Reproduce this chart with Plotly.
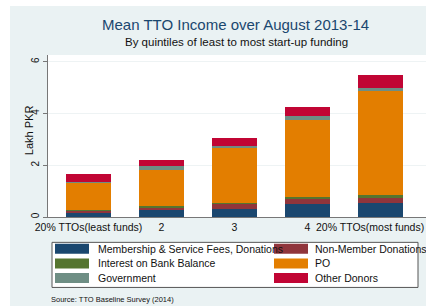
import plotly.graph_objects as go

categories = ["20% TTOs(least funds)", "2", "3", "4", "20% TTOs(most funds)"]
membership = [0.19, 0.26, 0.32, 0.49, 0.54]
non_member = [0.05, 0.12, 0.19, 0.21, 0.18]
interest = [0.02, 0.04, 0.02, 0.08, 0.12]
po = [1.08, 1.41, 2.12, 2.97, 4.03]
government = [0.03, 0.13, 0.08, 0.16, 0.12]
other_donors = [0.29, 0.26, 0.32, 0.34, 0.49]

series = [
    ("Membership & Service Fees, Donations", membership, "#1a476f"),
    ("Non-Member Donations", non_member, "#90353b"),
    ("Interest on Bank Balance", interest, "#55752f"),
    ("PO", po, "#e37e00"),
    ("Government", government, "#6e8e84"),
    ("Other Donors", other_donors, "#c10534"),
]

W, H = 426, 306
L, R_, T, B = 48, 426, 55, 216.7  # plot area in pixels

def px(x):
    return (x - L) / (R_ - L)

def py(y):
    return (B - y) / (B - T)

FONT = "Liberation Sans, Arial, sans-serif"
xpos = list(range(len(categories)))

fig = go.Figure()
for name, vals, col in series:
    fig.add_trace(go.Bar(x=xpos, y=vals, name=name, marker_color=col,
                         marker_line_width=0, width=0.62, showlegend=False))

shapes = [
    dict(type="rect", xref="paper", yref="paper", x0=px(0), x1=px(W), y0=py(0), y1=py(6),
         fillcolor="white", line_width=0, layer="below"),
    dict(type="rect", xref="paper", yref="paper", x0=px(0), x1=px(10), y0=py(0), y1=py(H),
         fillcolor="white", line_width=0, layer="below"),
    dict(type="rect", xref="paper", yref="paper", x0=px(52), x1=px(418), y0=py(242), y1=py(287),
         fillcolor="white", line=dict(color="#555555", width=1)),
]
annotations = []
rows = [248.5, 263, 277.5]
cols = [(55, 89, 96), (274, 308, 313)]
for i, (name, vals, col) in enumerate(series):
    r = rows[i // 2]
    c0, c1, tx = cols[i % 2]
    shapes.append(dict(type="rect", xref="paper", yref="paper", x0=px(c0), x1=px(c1),
                       y0=py(r + 5), y1=py(r - 5), fillcolor=col, line_width=0))
    annotations.append(dict(text=name, xref="paper", yref="paper", x=px(tx), y=py(r),
                            xanchor="left", yanchor="middle", showarrow=False,
                            font=dict(size=10.5, color="#111111", family=FONT)))

tick_labels = categories[:-1] + [""]

annotations += [
    dict(text=categories[-1], xref="paper", yref="paper", x=px(426), y=py(227),
         xanchor="right", yanchor="middle", showarrow=False,
         font=dict(size=10.5, color="#111111", family=FONT)),
    dict(text="Mean TTO Income over August 2013-14", xref="paper", yref="paper",
         x=px(235), y=py(25), xanchor="center", yanchor="middle", showarrow=False,
         font=dict(size=15, color="#1a476f", family=FONT)),
    dict(text="By quintiles of least to most start-up funding", xref="paper", yref="paper",
         x=px(236), y=py(42), xanchor="center", yanchor="middle", showarrow=False,
         font=dict(size=11.5, color="#111111", family=FONT)),
    dict(text="Lakh PKR", xref="paper", yref="paper", x=px(29), y=py(130),
         xanchor="center", yanchor="middle", showarrow=False, textangle=-90,
         font=dict(size=11, color="#111111", family=FONT)),
    dict(text="Source: TTO Baseline Survey (2014)", xref="paper", yref="paper",
         x=px(49), y=py(299), xanchor="left", yanchor="middle", showarrow=False,
         font=dict(size=7.5, color="#111111", family=FONT)),
]

fig.update_layout(
    width=W, height=H,
    barmode="stack",
    margin=dict(l=L, r=W - R_, t=T, b=H - B),
    paper_bgcolor="#eaf2f3",
    plot_bgcolor="white",
    shapes=shapes,
    annotations=annotations,
    font=dict(family=FONT, size=11, color="#111111"),
    xaxis=dict(tickmode="array", tickvals=xpos, ticktext=tick_labels,
               range=[-0.555, 4.623], showgrid=False, showline=True,
               linecolor="#777777", linewidth=1, ticks="", tickfont=dict(size=10.5),
               zeroline=False),
    yaxis=dict(range=[0, 6.26], tickvals=[0, 2, 4, 6], ticks="outside", ticklen=4,
               tickcolor="#777777", showline=True, linecolor="#777777", linewidth=1,
               tickangle=-90, tickfont=dict(size=10), showgrid=True,
               gridcolor="#eef3f4", gridwidth=1, zeroline=False),
)

fig.write_html("out.html", config={"displayModeBar": False},
               post_script="document.body.style.margin='0';")
